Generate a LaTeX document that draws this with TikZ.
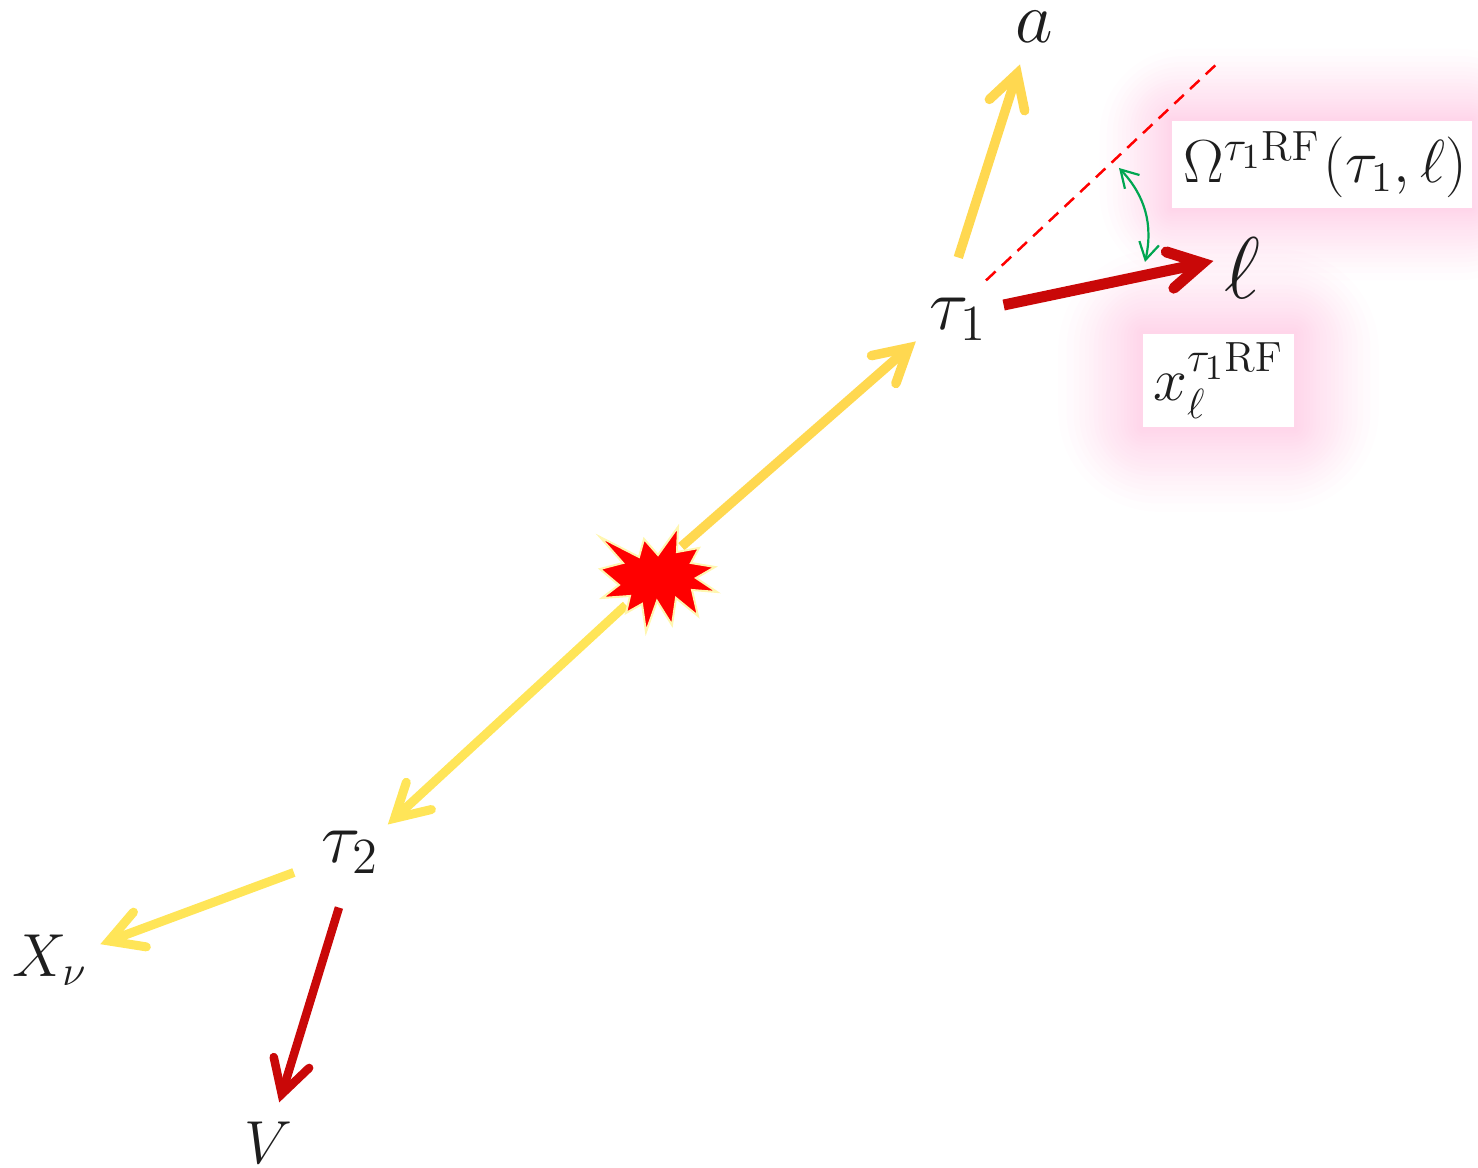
\documentclass[tikz,border=0pt]{standalone}
\usepackage{amsmath, amssymb}
\usepackage{xcolor}
\usetikzlibrary{arrows.meta,calc,backgrounds}
\definecolor{topyellow}{RGB}{255,216,80}
\definecolor{lowyellow}{RGB}{255,229,88}
\definecolor{darkred}{RGB}{201,8,8}
\definecolor{burstred}{RGB}{255,0,0}
\definecolor{burstrim}{RGB}{255,246,176}
\definecolor{anglegreen}{RGB}{0,166,81}
\definecolor{glowpink}{RGB}{255,102,178}
\definecolor{inkgray}{RGB}{30,30,30}

\begin{document}
\begin{tikzpicture}[
  x=0.01cm, y=-0.01cm,
  particle/.style={circle, inner sep=0pt, text=inkgray, font=\huge},
  product/.style={rectangle, inner sep=0pt, text=inkgray, font=\LARGE},
  infobox/.style={rectangle, fill=white, inner sep=0pt, text=inkgray, font=\LARGE},
  glow/.style={fill=glowpink, fill opacity=0.016},
  decayarrow/.style={line width=#1, line cap=butt,
    -{Straight Barb[length=0.33cm, width=0.37cm, line cap=round, line join=miter]}},
  yellowtop/.style={decayarrow=0.095cm, color=topyellow},
  yellowlow/.style={decayarrow=0.09cm, color=lowyellow},
  redarrow/.style={decayarrow=#1, color=darkred},
  axisline/.style={color=burstred, line width=0.025cm, dash pattern=on 0.13cm off 0.085cm},
  anglearrow/.style={<->, >={Straight Barb[length=0.17cm, width=0.2cm]}, color=anglegreen, line width=0.022cm}
]
  \useasboundingbox (0,0) rectangle (1478,1168);

  \node[infobox, minimum width=3cm, minimum height=0.87cm] (omega) at (1322,164.5)
    {\hspace{0.06cm}$\Omega^{\tau_1\mathrm{RF}}\mkern1mu(\tau_1,\ell)$};
  \node[infobox, minimum width=1.51cm, minimum height=0.93cm] (xfrac) at (1218.5,380.5)
    {$x_\ell^{\tau_1\mathrm{RF}}$};

  \begin{scope}[on background layer]
    \foreach \i in {1,...,20} {
      \pgfmathsetmacro{\r}{85*(1-(\i/21)^0.6)}
      \pgfmathsetmacro{\q}{100*(1-(\i/21)^0.6)}
      \fill[glow, rounded corners=\r*0.012cm] ($(omega.south west)+(-\r,\r)$) rectangle ($(omega.north east)+(\r,-\r)$);
      \fill[glow, rounded corners=\q*0.012cm] ($(xfrac.south west)+(-\q,\q)$) rectangle ($(xfrac.north east)+(\q,-\q)$);
    }
  \end{scope}

  \node[particle, minimum size=0.94cm] (tau1) at (958,319) {$\tau_1$};
  \node[particle, minimum size=0.92cm] (tau2) at (350,852) {$\tau_2$};
  \node[product, font=\huge] (a) at (1034,27) {$a$};
  \node[particle, minimum size=0.65cm, font=\Huge] (lep) at (1242,268) {$\ell$};
  \node[particle, minimum size=0.9cm, font=\LARGE] (xnu) at (50,960) {$X_\nu$};
  \node[product] (vec) at (268,1143) {$V$};
  \node[circle, inner sep=0pt, minimum size=0.8cm] (burst) at (658,580) {};
  \coordinate (axisend) at (1221,60);
  \coordinate (angleA) at (1119,168);
  \coordinate (angleB) at (1145,262);

  \draw[axisline] (tau1.54) -- (axisend);
  \draw[yellowtop] (burst.55) -- (tau1.208);
  \draw[yellowlow] (burst.218) -- (tau2.36);
  \draw[yellowtop, shorten <=0.146cm, shorten >=0.22cm] (tau1.95.5) -- (a.246);
  \draw[redarrow=0.11cm, shorten >=-0.07cm] (tau1.17) -- (lep.171);
  \draw[yellowlow, shorten <=0.13cm, shorten >=0.07cm] (tau2.200) -- (xnu.17);
  \draw[redarrow=0.085cm, shorten <=0.1cm, shorten >=0.2cm] (tau2.260) -- (vec.76);
  \draw[anglearrow] (angleA) to[bend left=28] (angleB);

  \draw[fill=burstred, draw=burstrim, line width=0.02cm, line join=miter]
    (600,537) -- (639,557) -- (644,539) -- (658,555) -- (678,527)
    -- (677,552) -- (699,548) -- (691,563) -- (715,567) -- (696,578) -- (717,592)
    -- (692,590) -- (698,616) -- (676,598) -- (672,625) -- (657,601) -- (646,632)
    -- (642,604) -- (626,613) -- (630,596) -- (602,598) -- (619,585) -- (600,569)
    -- (623,563) -- cycle;
\end{tikzpicture}
\end{document}
